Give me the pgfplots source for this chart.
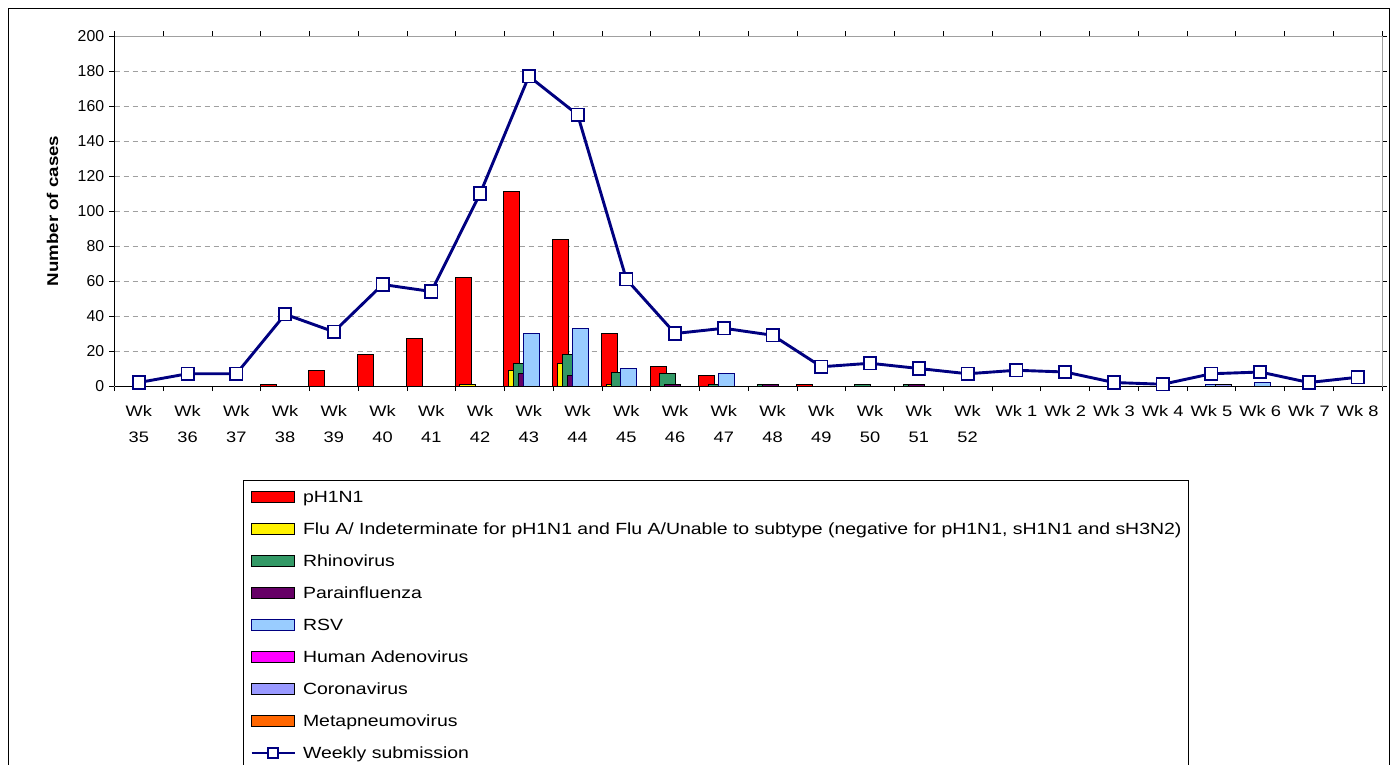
\documentclass[border=0pt]{standalone}
\usepackage{pgfplots}
\pgfplotsset{compat=1.18}
\usepackage{fontspec}
\setmainfont{Liberation Sans}
\newfontfamily\widefont{Liberation Sans}[FakeStretch=1.2]
\definecolor{navyline}{HTML}{000080}
\definecolor{rhino}{HTML}{339966}
\definecolor{para}{HTML}{660066}
\definecolor{rsv}{HTML}{99CCFF}
\definecolor{adeno}{HTML}{FF00FF}
\definecolor{corona}{HTML}{9999FF}
\definecolor{meta}{HTML}{FF6600}
\definecolor{gridgray}{HTML}{A0A0A0}
\pgfplotsset{
 barleg/.style={legend image code/.code={\draw[##1] (0pt,-1.9pt) rectangle (21.5pt,3.4pt);}},
 lineleg/.style={legend image code/.code={\draw[##1, mark size=2.5pt, mark repeat=2, mark phase=2] plot coordinates {(0pt,0.6pt)(10.75pt,0.6pt)(21.5pt,0.6pt)};}},
 mybar/.style={ybar, bar width=0.328, draw=black, line width=0.5pt, barleg},
}
\begin{document}
\begin{tikzpicture}
\path[use as bounding box, clip] (0,0) rectangle (695.5pt,-382.5pt);
\fill[white] (0,0) rectangle (695.5pt,-382.5pt);
\draw[black, line width=0.6pt] (4.15pt,-4.15pt) rectangle (694.75pt,-500pt);
\begin{axis}[
 at={(57.25pt,-193pt)}, anchor=south west,
 scale only axis, width=633.75pt, height=175pt,
 xmin=-0.5, xmax=25.5, ymin=0, ymax=200,
 clip=false,
 ytick={0,20,...,200},
 xtick={0,...,25},
 xticklabels={Wk\\35,Wk\\36,Wk\\37,Wk\\38,Wk\\39,Wk\\40,Wk\\41,Wk\\42,Wk\\43,Wk\\44,Wk\\45,Wk\\46,Wk\\47,Wk\\48,Wk\\49,Wk\\50,Wk\\51,Wk\\52,Wk 1,Wk 2,Wk 3,Wk 4,Wk 5,Wk 6,Wk 7,Wk 8},
 minor xtick={-0.5,0.5,...,25.5},
 tick align=outside,
 major tick length=2.5pt, minor tick length=2.5pt,
 major x tick style={draw=none},
 tick style={black, line width=0.5pt},
 ymajorgrids,
 major grid style={gridgray, dash pattern=on 2.5pt off 2pt, line width=0.5pt},
 axis line style={gridgray, line width=0.5pt},
 /pgf/number format/assume math mode=true,
 yticklabel style={font=\fontsize{7.9}{9}\selectfont, anchor=east, inner sep=0pt, xshift=-2.5pt},
 xticklabel style={font=\widefont\fontsize{7.6}{13}\selectfont, align=center, anchor=north, inner sep=0pt, yshift=-7pt},
 ylabel={Number of cases},
 every axis y label/.style={at={(axis description cs:-0.0489,0.5)}, rotate=90, anchor=center, font=\widefont\bfseries\fontsize{7.8}{9}\selectfont},
 legend style={at={(axis description cs:0.1011,-0.2686)}, anchor=north west, draw=black, line width=0.5pt,
   font=\widefont\fontsize{8.1}{9}\selectfont, inner xsep=3.5pt, inner ysep=5pt,
   nodes={inner sep=0pt, text height=6pt, text depth=1.7pt}, row sep=8.3pt, column sep=3.5pt},
 legend cell align=left,
]
\addplot[mybar, bar shift=-0.35, fill=red] coordinates {(3,1)(4,9)(5,18)(6,27)(7,62)(8,111)(9,84)(10,30)(11,11)(12,6)(13,0)(14,1)(16,0)(18,0)(19,0)};
\addlegendentry{pH1N1}
\addplot[mybar, bar shift=-0.25, fill=yellow] coordinates {(7,1)(8,9)(9,13)(10,1)(11,0)(13,0)(16,0)(19,0)};
\addlegendentry{Flu A/ Indeterminate for pH1N1 and Flu A/Unable to subtype (negative for pH1N1, sH1N1 and sH3N2)}
\addplot[mybar, bar shift=-0.15, fill=rhino] coordinates {(8,13)(9,18)(10,8)(11,7)(12,1)(13,1)(15,1)(16,1)(17,0)(19,0)};
\addlegendentry{Rhinovirus}
\addplot[mybar, bar shift=-0.05, fill=para] coordinates {(8,7)(9,6)(10,0)(11,1)(12,0)(13,1)(16,1)(17,0)(19,0)(23,0)};
\addlegendentry{Parainfluenza}
\addplot[mybar, bar shift=0.05, fill=rsv, draw=navyline] coordinates {(8,30)(9,33)(10,10)(12,7)(13,0)(18,0)(19,0)(22,1)(23,2)(25,0)};
\addlegendentry{RSV}
\addplot[mybar, bar shift=0.15, fill=adeno] coordinates {(12,0)(13,0)(19,0)};
\addlegendentry{Human Adenovirus}
\addplot[mybar, bar shift=0.25, fill=corona] coordinates {(13,0)(20,0)(21,0)(22,1)};
\addlegendentry{Coronavirus}
\addplot[mybar, bar shift=0.35, fill=meta] coordinates {(13,0)(20,0)(21,0)};
\addlegendentry{Metapneumovirus}
\addplot[navyline, line width=1.45pt, mark=square*, mark size=3.1pt, mark options={fill=white, draw=navyline, line width=0.85pt, solid}, lineleg]
 coordinates {(0,2)(1,7)(2,7)(3,41)(4,31)(5,58)(6,54)(7,110)(8,177)(9,155)(10,61)(11,30)(12,33)(13,29)(14,11)(15,13)(16,10)(17,7)(18,9)(19,8)(20,2)(21,1)(22,7)(23,8)(24,2)(25,5)};
\addlegendentry{Weekly submission}
\draw[black, line width=0.5pt] (rel axis cs:0,0) -- (rel axis cs:1,0);
\draw[black, line width=0.5pt] (rel axis cs:0,0) -- (rel axis cs:0,1);
\end{axis}
\end{tikzpicture}
\end{document}
